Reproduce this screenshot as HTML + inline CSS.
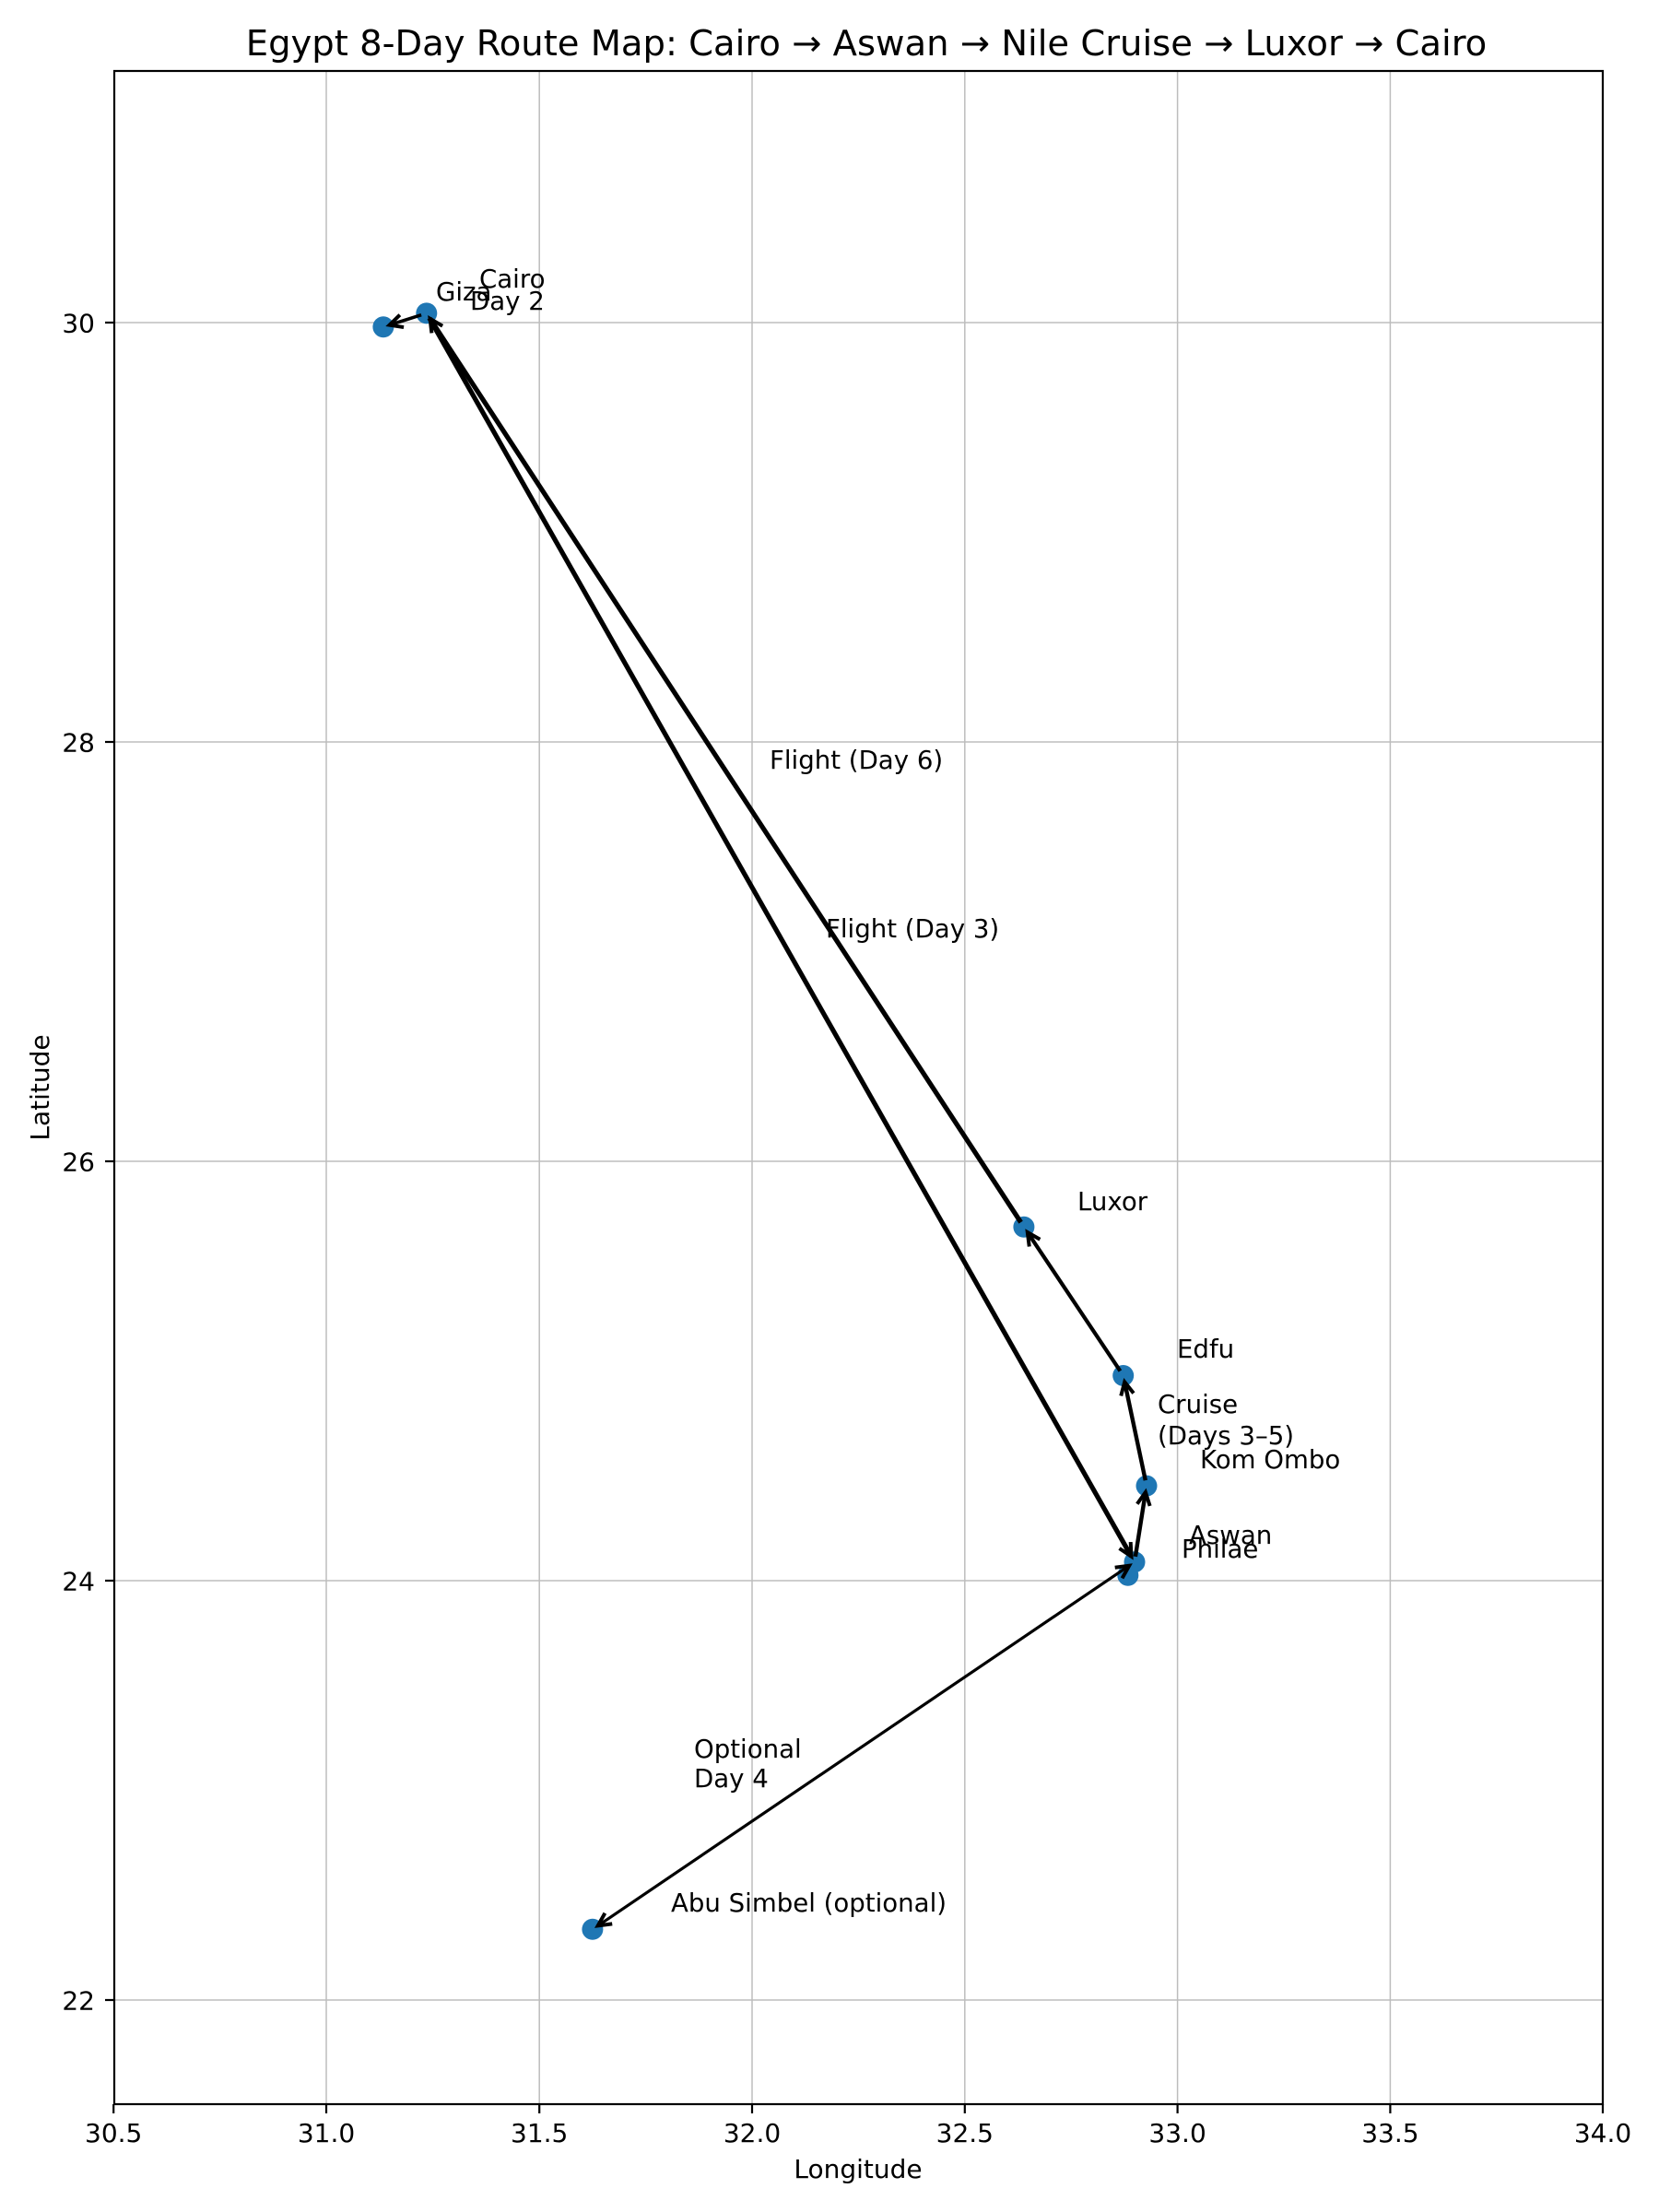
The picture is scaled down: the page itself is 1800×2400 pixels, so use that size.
<!DOCTYPE html>
<html><head><meta charset="utf-8"><style>
html,body{margin:0;padding:0;background:#fff}
svg{display:block}
text{font-family:"DejaVu Sans","Liberation Sans",sans-serif;fill:#000}
</style></head><body>
<svg width="1800" height="2400" viewBox="0 0 1800 2400" xmlns="http://www.w3.org/2000/svg">
<defs>
<marker id="h" markerUnits="userSpaceOnUse" markerWidth="40" markerHeight="40" viewBox="-20 -20 40 40" refX="0" refY="0" orient="auto-start-reverse" overflow="visible">
<path d="M-14,-7 L0,0 L-14,7" fill="none" stroke="#000" stroke-width="4" stroke-linecap="butt"/>
</marker>
</defs>
<rect width="1800" height="2400" fill="#fff"/>
<g stroke="#bdbdbd" stroke-width="1.5">
<line x1="354" y1="77" x2="354" y2="2283"/>
<line x1="585.2" y1="77" x2="585.2" y2="2283"/>
<line x1="816" y1="77" x2="816" y2="2283"/>
<line x1="1046.8" y1="77" x2="1046.8" y2="2283"/>
<line x1="1277.6" y1="77" x2="1277.6" y2="2283"/>
<line x1="1508.4" y1="77" x2="1508.4" y2="2283"/>
<line x1="124" y1="350" x2="1739" y2="350"/>
<line x1="124" y1="805" x2="1739" y2="805"/>
<line x1="124" y1="1260" x2="1739" y2="1260"/>
<line x1="124" y1="1715" x2="1739" y2="1715"/>
<line x1="124" y1="2170" x2="1739" y2="2170"/>
</g>
<g fill="#1f77b4">
<circle cx="462.8" cy="339.9" r="11.5"/>
<circle cx="415.9" cy="354.7" r="11.5"/>
<circle cx="1231" cy="1694.8" r="11.5"/>
<circle cx="1223.8" cy="1709.2" r="11.5"/>
<circle cx="1244" cy="1612.1" r="11.5"/>
<circle cx="1218.7" cy="1492.5" r="11.5"/>
<circle cx="1110.9" cy="1331.2" r="11.5"/>
<circle cx="642.9" cy="2093.3" r="11.5"/>
</g>
<g stroke="#000" fill="none" stroke-linecap="butt">
<line x1="457.1" y1="341.7" x2="422.6" y2="352.6" stroke-width="3.6" marker-end="url(#h)"/>
<line x1="465.8" y1="345.1" x2="1227.5" y2="1688.7" stroke-width="5.2" marker-end="url(#h)"/>
<line x1="1231.9" y1="1688.9" x2="1242.9" y2="1619" stroke-width="4.4" marker-end="url(#h)"/>
<line x1="1242.8" y1="1606.2" x2="1220.2" y2="1499.4" stroke-width="4.4" marker-end="url(#h)"/>
<line x1="1215.4" y1="1487.5" x2="1114.8" y2="1337" stroke-width="4.2" marker-end="url(#h)"/>
<line x1="1107.6" y1="1326.2" x2="466.6" y2="345.8" stroke-width="5.2" marker-end="url(#h)"/>
<line x1="648.7" y1="2089.4" x2="1225.2" y2="1698.7" stroke-width="3.2" marker-start="url(#h)" marker-end="url(#h)"/>
</g>
<rect x="124" y="77" width="1615" height="2206" fill="none" stroke="#000" stroke-width="2.2"/>
<g stroke="#000" stroke-width="2.2">
<line x1="123.2" y1="2283" x2="123.2" y2="2293"/>
<line x1="354" y1="2283" x2="354" y2="2293"/>
<line x1="585.2" y1="2283" x2="585.2" y2="2293"/>
<line x1="816" y1="2283" x2="816" y2="2293"/>
<line x1="1046.8" y1="2283" x2="1046.8" y2="2293"/>
<line x1="1277.6" y1="2283" x2="1277.6" y2="2293"/>
<line x1="1508.4" y1="2283" x2="1508.4" y2="2293"/>
<line x1="1739" y1="2283" x2="1739" y2="2293"/>
<line x1="114" y1="350" x2="124" y2="350"/>
<line x1="114" y1="805" x2="124" y2="805"/>
<line x1="114" y1="1260" x2="124" y2="1260"/>
<line x1="114" y1="1715" x2="124" y2="1715"/>
<line x1="114" y1="2170" x2="124" y2="2170"/>
</g>
<g font-size="28" text-anchor="middle">
<text x="123.2" y="2324">30.5</text>
<text x="354" y="2324">31.0</text>
<text x="585.2" y="2324">31.5</text>
<text x="816" y="2324">32.0</text>
<text x="1046.8" y="2324">32.5</text>
<text x="1277.6" y="2324">33.0</text>
<text x="1508.4" y="2324">33.5</text>
<text x="1739" y="2324">34.0</text>
<text x="931" y="2363">Longitude</text>
<text transform="translate(53,1180) rotate(-90)">Latitude</text>
</g>
<g font-size="28" text-anchor="end">
<text x="103" y="360.5">30</text>
<text x="103" y="815.5">28</text>
<text x="103" y="1270.5">26</text>
<text x="103" y="1725.5">24</text>
<text x="103" y="2180.5">22</text>
</g>
<text x="940" y="60" font-size="38.5" text-anchor="middle">Egypt 8-Day Route Map: Cairo → Aswan → Nile Cruise → Luxor → Cairo</text>
<g font-size="27.6">
<text x="520" y="312">Cairo</text>
<text x="510" y="336">Day 2</text>
<text x="473" y="326">Giza</text>
<text x="1169" y="1313">Luxor</text>
<text x="1277" y="1473">Edfu</text>
<text x="1256" y="1533">Cruise</text>
<text x="1256" y="1567">(Days 3–5)</text>
<text x="1302" y="1593">Kom Ombo</text>
<text x="1290" y="1675">Aswan</text>
<text x="1282" y="1690">Philae</text>
<text x="835" y="834">Flight (Day 6)</text>
<text x="896" y="1017">Flight (Day 3)</text>
<text x="753" y="1907">Optional</text>
<text x="753" y="1939">Day 4</text>
<text x="728" y="2074">Abu Simbel (optional)</text>
</g>
</svg>
</body></html>
